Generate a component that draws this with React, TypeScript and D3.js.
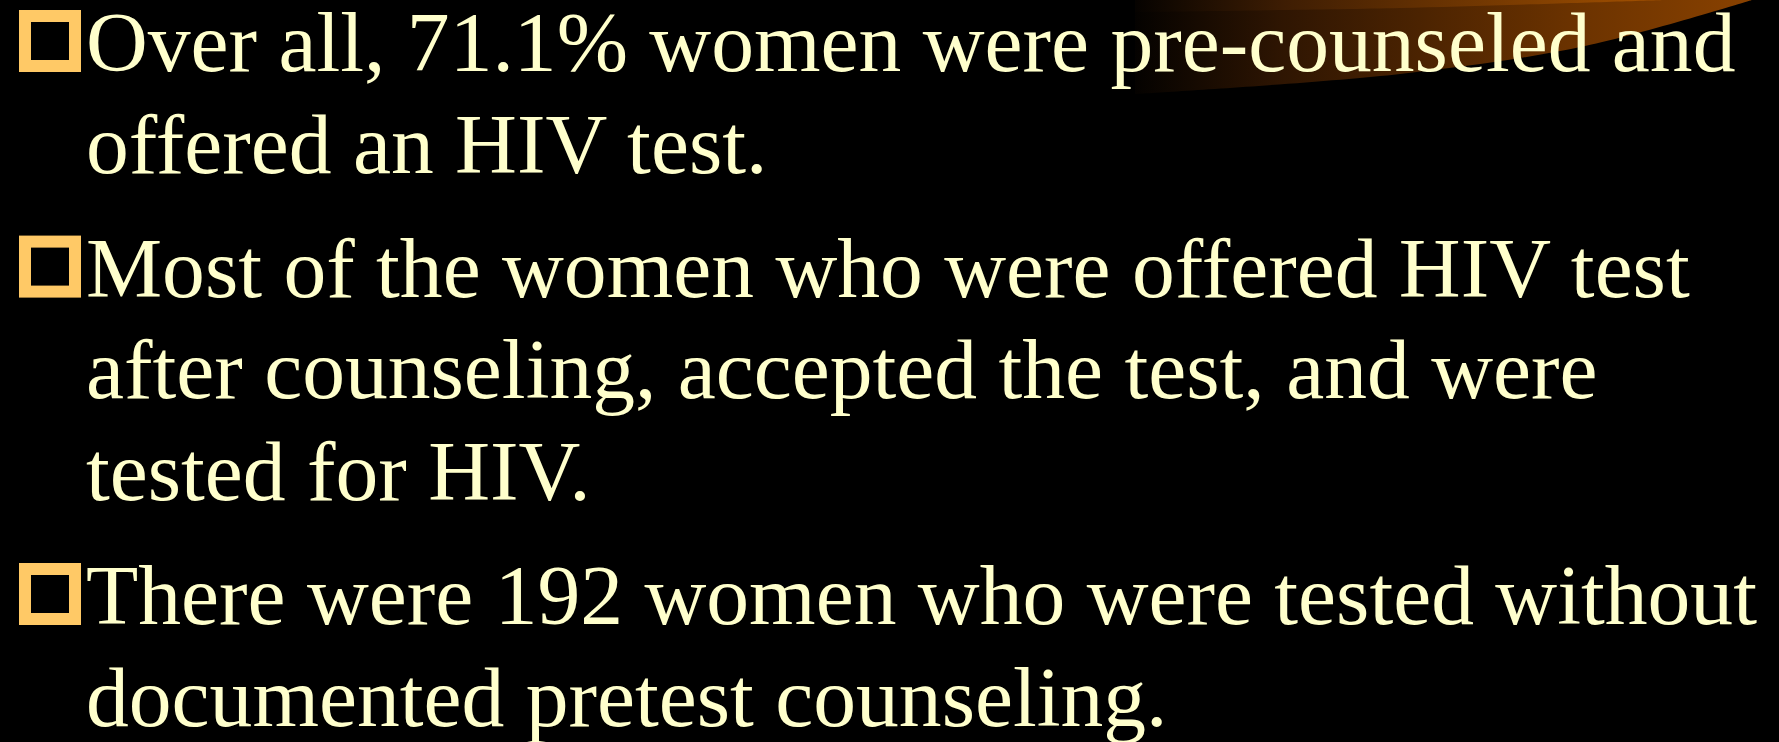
import * as d3 from "d3";
import { useEffect } from "react";

// slide text, one array per bullet, already broken into lines
const bullet1 = ["Over all, 71.1% women were pre-counseled and", "offered an HIV test."];
const bullet2 = [
    "Most of the women who were offered HIV test",
    "after counseling, accepted the test, and were",
    "tested for HIV.",
];
const bullet3 = ["There were 192 women who were tested without", "documented pretest counseling."];
const bullets = [bullet1, bullet2, bullet3];

// swoosh edges in the top right corner (x, y)
const swooshOuter: [number, number][] = [[1135, 94], [1400, 74], [1585, 46], [1752, 0]];
const swooshInner: [number, number][] = [[1135, 12], [1400, 8], [1665, 0]];

const W = 1779;
const H = 742;

function App() {
    useEffect(() => {
        document.body.style.margin = "0";
        document.body.style.background = "#000";
    }, []);

    const textColor = "#ffffcc";
    const bulletColor = "#ffc966";
    const fontSize = 85.6;

    // baseline of every line: step per line plus an extra gap per paragraph
    const rows: { text: string; para: number; first: boolean; idx: number }[] = [];
    bullets.forEach((lines, p) => {
        lines.forEach((t, i) => rows.push({ text: t, para: p, first: i === 0, idx: rows.length }));
    });
    const lineY = d3.scaleLinear().domain([0, 1]).range([71, 172.8]);
    const baseline = (r: { idx: number; para: number }) => lineY(r.idx) + r.para * 22;

    const curve = d3.line().curve(d3.curveCatmullRom);
    const outerPath = curve(swooshOuter) + `L${W},0L${swooshOuter[0][0]},0Z`;
    const innerPath = curve(swooshInner) + `L${swooshInner[0][0]},0Z`;

    return (
        <svg width={W} height={H} style={{ display: "block", background: "#000" }}>
            <defs>
                <linearGradient id="swoosh" x1="1120" x2="1760" y1="0" y2="0" gradientUnits="userSpaceOnUse">
                    <stop offset="0" stopColor="#000" />
                    <stop offset="0.25" stopColor="#2e1502" />
                    <stop offset="0.7" stopColor="#6a3200" />
                    <stop offset="1" stopColor="#8a4200" />
                </linearGradient>
                <linearGradient id="swooshLight" x1="1120" x2="1670" y1="0" y2="0" gradientUnits="userSpaceOnUse">
                    <stop offset="0" stopColor="#000" />
                    <stop offset="0.3" stopColor="#3e1d03" />
                    <stop offset="1" stopColor="#a65200" />
                </linearGradient>
            </defs>
            <rect x={0} y={0} width={W} height={H} fill="#000" />
            <path d={outerPath} fill="url(#swoosh)" />
            <path d={innerPath} fill="url(#swooshLight)" />

            {rows.filter(r => r.first).map(r => (
                <rect
                    key={"b" + r.idx}
                    x={25}
                    y={baseline(r) - 55}
                    width={50}
                    height={50}
                    fill="none"
                    stroke={bulletColor}
                    strokeWidth={12}
                />
            ))}

            {rows.map(r => (
                <text
                    key={"t" + r.idx}
                    x={86}
                    y={baseline(r)}
                    fill={textColor}
                    fontFamily="'Liberation Serif', 'Times New Roman', serif"
                    fontSize={fontSize}
                >
                    {r.text}
                </text>
            ))}
        </svg>
    );
}

export default App;
